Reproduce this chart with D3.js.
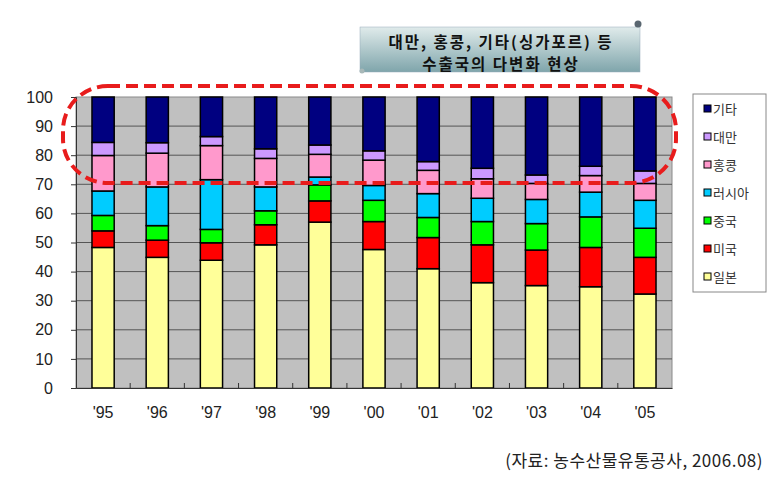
<!DOCTYPE html>
<html><head><meta charset="utf-8">
<script src="https://cdn.jsdelivr.net/npm/d3@7"></script>
<style>body{margin:0;background:#fff;}svg{display:block;}</style>
</head><body>
<script>
const years = ["'95","'96","'97","'98","'99","'00","'01","'02","'03","'04","'05"];
const seriesNames = ["일본","미국","중국","러시아","홍콩","대만","기타"];
const japan  = [48.3,44.9,43.9,49.2,57.0,47.6,41.0,36.2,35.2,34.8,32.3];
const usa    = [5.7,5.9,6.0,6.9,7.3,9.6,10.7,13.0,12.2,13.5,12.6];
const china  = [5.3,5.0,4.6,4.8,5.5,7.3,6.9,8.0,9.1,10.5,10.0];
const russia = [8.4,13.3,17.1,8.2,2.7,5.1,8.2,8.0,8.3,8.5,9.6];
const hk     = [12.2,11.6,11.7,9.8,7.8,8.7,8.0,6.7,5.5,5.7,5.8];
const taiwan = [4.5,3.6,3.1,3.3,3.2,3.2,3.0,3.6,2.9,3.2,4.3];
const others = [15.6,15.7,13.6,17.8,16.5,18.5,22.2,24.5,26.8,23.8,25.4];
const yTicks = [0,10,20,30,40,50,60,70,80,90,100];
const colors = ["#ffff99","#ff0000","#00ff00","#00ccff","#ff99cc","#cc99ff","#000080"];
const titleLines = ["대만, 홍콩, 기타(싱가포르) 등","수출국의 다변화 현상"];
const sourceText = "(자료: 농수산물유통공사, 2006.08)";

const W = 775, H = 483;
const M = {left:76, right:672, top:97, bottom:388};
const svg = d3.select("body").append("svg").attr("width",W).attr("height",H);
const kr = "'Noto Sans CJK KR','Noto Sans',sans-serif";
const num = "'Liberation Sans',Arial,sans-serif";

const table = years.map((y,i)=>({year:y,"일본":japan[i],"미국":usa[i],"중국":china[i],"러시아":russia[i],"홍콩":hk[i],"대만":taiwan[i],"기타":others[i]}));
const stack = d3.stack().keys(seriesNames)(table);

const x = d3.scaleBand().domain(years).range([M.left,M.right]).paddingInner(0.59).paddingOuter(0.295);
const xb = d3.scaleBand().domain(years).range([M.left,M.right]);
const y = d3.scaleLinear().domain([0,100]).range([M.bottom,M.top]);
const color = d3.scaleOrdinal().domain(seriesNames).range(colors);

// plot background
svg.append("rect").attr("x",M.left).attr("y",M.top).attr("width",M.right-M.left).attr("height",M.bottom-M.top)
  .attr("fill","#c0c0c0").attr("stroke","#8a8a8a").attr("stroke-width",1);

// gridlines
svg.append("g").selectAll("line").data(yTicks.filter(d=>d>0&&d<100)).join("line")
  .attr("x1",M.left).attr("x2",M.right).attr("y1",d=>y(d)).attr("y2",d=>y(d))
  .attr("stroke","#555").attr("stroke-width",1);

// y axis
const ya = svg.append("g").attr("transform",`translate(${M.left},0)`)
  .call(d3.axisLeft(y).tickValues(yTicks).tickSize(5).tickPadding(18));
ya.select(".domain").attr("stroke","#333");
ya.selectAll(".tick line").attr("stroke","#333");
ya.selectAll("text").attr("font-family",num).attr("font-size",16).attr("fill","#222");

// bars
svg.append("g").selectAll("g").data(stack).join("g").attr("fill",d=>color(d.key))
  .selectAll("rect").data(d=>d).join("rect")
  .attr("x",d=>x(d.data.year)).attr("width",x.bandwidth())
  .attr("y",d=>y(d[1])).attr("height",d=>y(d[0])-y(d[1]))
  .attr("stroke","#000").attr("stroke-width",1.5);

// x axis
const xa = svg.append("g").attr("transform",`translate(0,${M.bottom})`)
  .call(d3.axisBottom(xb).tickSize(0).tickPadding(19));
xa.select(".domain").attr("stroke","#333");
xa.selectAll("text").attr("font-family",num).attr("font-size",16).attr("fill","#222");
// boundary ticks (inside)
svg.append("g").selectAll("line").data(years.slice(1)).join("line")
  .attr("x1",d=>xb(d)).attr("x2",d=>xb(d)).attr("y1",M.bottom).attr("y2",M.bottom-5)
  .attr("stroke","#333");

// legend
const lg = svg.append("g");
lg.append("rect").attr("x",693).attr("y",94).attr("width",73).attr("height",198)
  .attr("fill","#fff").attr("stroke","#888");
const legendOrder = seriesNames.slice().reverse();
const li = lg.selectAll("g.item").data(legendOrder).join("g").attr("class","item")
  .attr("transform",(d,i)=>`translate(704,${109+i*28})`);
li.append("rect").attr("x",0).attr("y",-4).attr("width",7).attr("height",7)
  .attr("fill",d=>color(d)).attr("stroke","#000").attr("stroke-width",1);
li.append("text").attr("x",9).attr("y",0).attr("dy","0.35em").text(d=>d)
  .attr("font-family",kr).attr("font-size",13).attr("fill","#333");

// red dashed highlight
svg.append("rect").attr("x",63).attr("y",86).attr("width",613).attr("height",97)
  .attr("rx",45).attr("ry",44).attr("fill","none").attr("stroke","#e81c1c")
  .attr("stroke-width",4).attr("stroke-dasharray","12 6");

// title scroll box
const defs = svg.append("defs");
const gr = defs.append("linearGradient").attr("id","tg").attr("x1",0).attr("y1",0).attr("x2",0).attr("y2",1);
gr.append("stop").attr("offset","0%").attr("stop-color","#e0ebeb");
gr.append("stop").attr("offset","100%").attr("stop-color","#7fa5ab");
svg.append("rect").attr("x",360).attr("y",27).attr("width",280).attr("height",45)
  .attr("fill","url(#tg)").attr("stroke","#9ab").attr("stroke-width",0.5);
svg.append("circle").attr("cx",638).attr("cy",24).attr("r",3.5).attr("fill","#5a6670");
svg.append("circle").attr("cx",362).attr("cy",71).attr("r",2.5).attr("fill","#a8b8b8");
svg.append("g").selectAll("text").data(titleLines).join("text")
  .attr("x",501).attr("y",(d,i)=>42.5+i*22.5).attr("dy","0.35em").attr("text-anchor","middle")
  .attr("font-family",kr).attr("font-weight","bold").attr("font-size",15.5).attr("letter-spacing",2)
  .attr("fill","#111").text(d=>d);

// source
svg.append("text").attr("x",763).attr("y",461).attr("dy","0.35em").attr("text-anchor","end")
  .attr("font-family",kr).attr("font-size",17).attr("letter-spacing",0.5).attr("fill","#222").text(sourceText);
</script>
</body></html>
